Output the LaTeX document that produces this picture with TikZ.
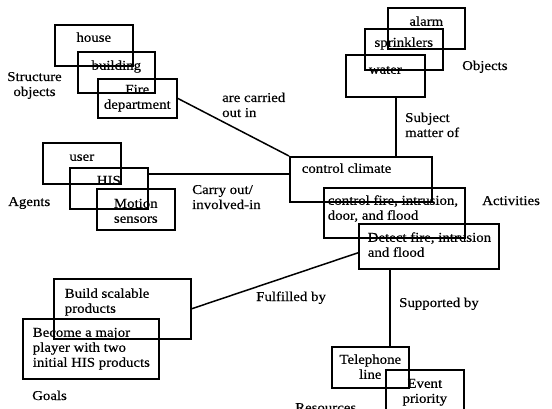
\documentclass[tikz,border=0pt]{standalone}
\usepackage{fontspec}
\setmainfont[FakeStretch=1.1, FakeBold=0.4]{Liberation Serif}
% box body: width, height, first-baseline drop, text (centred)
\newcommand\cbody[4]{\parbox[t][#2][t]{#1}{\centering\rule{0pt}{#3}#4}}
% box body: width, height, first-baseline drop, left inset, text (flush left)
\newcommand\lbody[5]{\parbox[t][#2][t]{#1}{\raggedright\leftskip=#4\rule{0pt}{#3}#5}}
% free-standing multi-line caption
\newcommand\txtrows[2]{\begin{tabular}[t]{@{}#1@{}}#2\end{tabular}}
\tikzset{
  frame/.style={draw, line width=1.6pt, anchor=north west, inner sep=0pt},
  link/.style={line width=1.5pt},
  lbl/.style={inner sep=0pt, anchor=base west},
  clbl/.style={inner sep=0pt, anchor=base},
}
\begin{document}
\begin{tikzpicture}[x=1pt, y=-1pt, every node/.style={font=\fontsize{13.5}{15}\selectfont}]
\useasboundingbox (0,0) rectangle (552,409);
\fill[white] (0,0) rectangle (552,409);

% structure objects
\node[frame] (house) at (54,24) {\cbody{78pt}{41pt}{17pt}{house}};
\node[frame] (building) at (77,51) {\cbody{77pt}{41pt}{18pt}{building}};
\node[frame] (firedept) at (97,78) {\cbody{79pt}{39pt}{15pt}{Fire\\department}};
\node[clbl] (lstruct) at (34.5,81) {\txtrows{c}{Structure\\objects}};

% objects
\node[frame] (alarm) at (387,7) {\cbody{77pt}{41pt}{18pt}{alarm}};
\node[frame] (sprinklers) at (364,28) {\cbody{78pt}{41pt}{18pt}{sprinklers}};
\node[frame] (water) at (345,54) {\cbody{79pt}{42pt}{19pt}{water}};
\node[lbl] (lobjects) at (462,70) {Objects};

% agents
\node[frame] (user) at (42,142) {\cbody{78pt}{41pt}{18pt}{user}};
\node[frame] (his) at (69,167) {\cbody{78pt}{41pt}{17pt}{HIS}};
\node[frame] (motion) at (96,188) {\cbody{78pt}{41pt}{19pt}{Motion\\sensors}};
\node[lbl] (lagents) at (8,206) {Agents};

% activities
\node[frame] (climate) at (289,156) {\lbody{142pt}{45pt}{16pt}{12pt}{control climate}};
\node[frame] (control) at (323,187) {\lbody{141pt}{50pt}{17pt}{4pt}{control fire, intrusion,\\door, and flood}};
\node[frame] (detect) at (358,223) {\lbody{140pt}{45pt}{18pt}{9pt}{Detect fire, intrusion\\and flood}};
\node[lbl] (lactivities) at (482,205) {Activities};

% goals
\node[frame] (build) at (53,278) {\lbody{137pt}{60pt}{19pt}{11pt}{Build scalable\\products}};
\node[frame] (become) at (22,318) {\lbody{136pt}{60pt}{18pt}{10pt}{Become a major\\player with two\\initial HIS products}};
\node[lbl] (lgoals) at (32,400) {Goals};

% resources
\node[frame] (phone) at (331,346) {\cbody{77pt}{41pt}{17pt}{Telephone\\line}};
\node[frame] (event) at (385,369) {\cbody{78pt}{44pt}{18pt}{Event\\priority}};
\node[lbl] (lresources) at (295,412) {Resources};

% relations
\draw[link] (firedept.east) -- (climate.north west);
\node[lbl] (rcarried) at (222,102) {\txtrows{l}{are carried\\out in}};

\coordinate (hisout) at ([yshift=-7pt]his.north east);
\draw[link] (hisout) -- (hisout -| climate.west);
\node[lbl] (rcarry) at (192,194) {\txtrows{l}{Carry out/\\involved-in}};

\coordinate (waterout) at ([xshift=10.5pt]water.south);
\draw[link] (waterout) -- (waterout |- climate.north);
\node[lbl] (rsubject) at (405,122) {\txtrows{l}{Subject\\matter of}};

\coordinate (detin) at ([yshift=-6.5pt]detect.west);
\draw[link] (detin) -- (build.east);
\node[lbl] (rfulfil) at (256,301) {Fulfilled by};

\coordinate (detout) at ([xshift=-39pt]detect.south);
\draw[link] (detout) -- (detout |- phone.north);
\node[lbl] (rsupport) at (399,307) {Supported by};
\end{tikzpicture}
\end{document}
